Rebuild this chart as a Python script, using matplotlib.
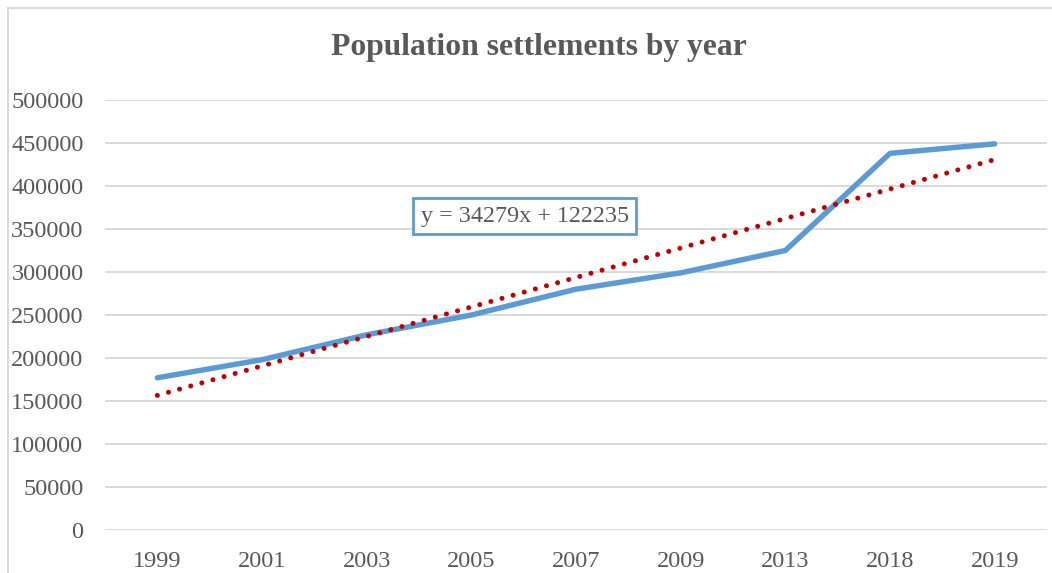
import matplotlib
matplotlib.use("Agg")
import matplotlib.pyplot as plt
from matplotlib.patches import Rectangle
import numpy as np

years = ["1999", "2001", "2003", "2005", "2007", "2009", "2013", "2018", "2019"]
population = [177000, 198000, 227000, 250000, 280000, 299000, 325000, 438000, 449000]
trend_slope = 34279
trend_intercept = 122235
y_ticks = [0, 50000, 100000, 150000, 200000, 250000, 300000, 350000, 400000, 450000, 500000]

GRAY = "#595959"
BLUE = "#5B9BD5"
RED = "#C00000"

plt.rcParams["font.family"] = ["Liberation Serif", "DejaVu Serif"]

fig = plt.figure(figsize=(10.52, 5.73), dpi=100)
fig.patch.set_facecolor("white")

# chart frame (runs past the right and bottom edges)
fig.add_artist(Rectangle((7.5 / 1052, -0.05), 1.1, 1 - 7.5 / 573 + 0.05,
                         transform=fig.transFigure, fill=False,
                         edgecolor="#D9D9D9", linewidth=1.4))

ax = fig.add_axes([105 / 1052, 1 - 530 / 573, 942 / 1052, 430 / 573])
x = np.arange(len(years))

ax.plot(x, population, color=BLUE, linewidth=3.9, solid_capstyle="round",
        solid_joinstyle="round", zorder=3)

# linear trend over category index 1..n
idx = np.arange(1, len(years) + 1)
trend = trend_slope * idx + trend_intercept
ax.plot(x, trend, color=RED, linewidth=3.6, linestyle=(0, (0.01, 2.3)),
        dash_capstyle="round", zorder=4)

ax.set_xlim(-0.5, len(years) - 0.5)
ax.set_ylim(0, 500000)
ax.set_yticks(y_ticks)
ax.set_yticklabels([str(v) for v in y_ticks])
ax.set_xticks(x)
ax.set_xticklabels(years)
ax.grid(axis="y", color="#D9D9D9", linewidth=1.4)
ax.set_axisbelow(True)
for s in ax.spines.values():
    s.set_visible(False)
ax.tick_params(axis="both", length=0, labelsize=17.5, labelcolor=GRAY)
ax.tick_params(axis="y", pad=15.5)
ax.tick_params(axis="x", pad=15)

fig.text(539 / 1052, 1 - 47 / 573, "Population settlements by year",
         ha="center", va="center", fontsize=22.8, fontweight="bold", color=GRAY)

ax.text(3.51, 365000, f"y = {trend_slope}x + {trend_intercept}",
        ha="center", va="center", fontsize=17.4, color=GRAY, zorder=5,
        bbox=dict(boxstyle="square,pad=0.3", facecolor="white",
                  edgecolor=BLUE, linewidth=2))

fig.savefig("out.png", dpi=100)
